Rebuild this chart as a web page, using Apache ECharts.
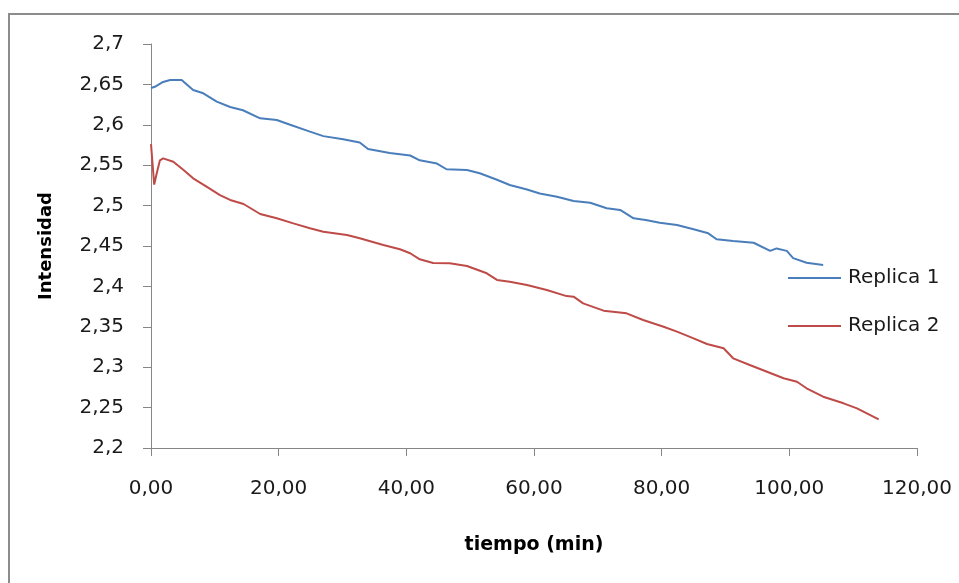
<!DOCTYPE html>
<html>
<head>
<meta charset="utf-8">
<script src="https://cdn.jsdelivr.net/npm/echarts@6/dist/echarts.min.js"></script>
<style>html,body{margin:0;padding:0;background:#fff}#c{width:959px;height:583px}</style>
</head>
<body>
<div id="c"></div>
<script>
const seriesNames = ['Replica 1', 'Replica 2'];
const xAxisTitle = 'tiempo (min)';
const yAxisTitle = 'Intensidad';
const xTicks = [0, 20, 40, 60, 80, 100, 120];
const yTicks = [2.2, 2.25, 2.3, 2.35, 2.4, 2.45, 2.5, 2.55, 2.6, 2.65, 2.7];

const rep1X = [0,0.6,1.9,3.0,4.8,6.6,8.2,10.3,12.4,14.4,17.1,19.7,21.8,24.9,27.0,30.1,32.7,34.0,37.4,40.6,42.1,44.8,46.3,49.5,51.5,54.2,56.2,58.9,60.9,63.6,66.2,68.8,71.4,73.5,75.6,77.5,79.7,82.4,85.0,87.3,88.6,91.2,94.4,97.0,98.0,99.6,100.6,102.7,105.3];
const rep1Y = [2.6455,2.647,2.653,2.6555,2.6555,2.643,2.639,2.6286,2.622,2.618,2.608,2.606,2.600,2.5915,2.586,2.582,2.578,2.570,2.565,2.562,2.556,2.552,2.545,2.544,2.540,2.532,2.5255,2.520,2.515,2.511,2.5057,2.5036,2.4967,2.4946,2.4843,2.4822,2.4789,2.476,2.4707,2.4657,2.4583,2.4562,2.454,2.444,2.447,2.444,2.435,2.4293,2.4265];

const rep2X = [0,0.5,0.9,1.4,1.9,3.5,5.1,6.6,8.7,10.8,12.4,14.5,17.1,19.7,22.3,24.9,27.0,30.7,32.7,36.4,39.0,40.6,42.1,44.2,46.8,49.5,52.6,54.2,56.2,58.9,62.0,65.1,66.2,67.7,70.9,74.5,77.1,80.3,82.4,85.0,87.1,89.7,91.2,93.8,96.5,99.1,101.2,102.7,105.3,108.5,110.6,114.0];
const rep2Y = [2.576,2.526,2.540,2.556,2.5585,2.5543,2.544,2.5338,2.5234,2.513,2.507,2.502,2.4896,2.4843,2.478,2.472,2.4677,2.4636,2.4595,2.4512,2.446,2.441,2.4335,2.429,2.4286,2.4253,2.4162,2.408,2.4058,2.4017,2.3955,2.388,2.3873,2.379,2.370,2.3667,2.3584,2.350,2.344,2.3357,2.3287,2.3234,2.311,2.3027,2.2944,2.2863,2.282,2.2739,2.2635,2.2553,2.249,2.2355];

const pairs = (xs, ys) => xs.map((x, i) => [x, ys[i]]);
const FONT = 'DejaVu Sans';
const axisColor = '#868686';

const chart = echarts.init(document.getElementById('c'), null, {renderer: 'canvas'});
chart.setOption({
  animation: false,
  backgroundColor: '#fff',
  graphic: [{
    type: 'rect',
    shape: {x: 9, y: 14, width: 1000, height: 1000},
    style: {fill: 'none', stroke: '#8c8c8c', lineWidth: 2},
    silent: true,
    z: -1
  }],
  grid: {left: 151, right: 42, top: 44, bottom: 135, containLabel: false},
  legend: {
    orient: 'vertical',
    left: 788,
    top: 266,
    padding: 0,
    itemWidth: 53,
    itemHeight: 2,
    itemGap: 24,
    icon: 'rect',
    textStyle: {fontFamily: FONT, fontSize: 20, color: '#1a1a1a', lineHeight: 24, padding: [0, 0, 0, 2]},
    data: seriesNames
  },
  xAxis: {
    type: 'value',
    min: xTicks[0],
    max: xTicks[xTicks.length - 1],
    interval: xTicks[1] - xTicks[0],
    name: xAxisTitle,
    nameLocation: 'middle',
    nameGap: 88,
    nameTextStyle: {fontFamily: FONT, fontSize: 19, fontWeight: 'bold', color: '#000'},
    axisLine: {show: true, lineStyle: {color: axisColor, width: 1}},
    axisTick: {show: true, inside: false, length: 8, lineStyle: {color: axisColor}},
    splitLine: {show: false},
    axisLabel: {
      margin: 31,
      fontFamily: FONT, fontSize: 20, color: '#1a1a1a',
      formatter: v => v.toFixed(2).replace('.', ',')
    }
  },
  yAxis: {
    type: 'value',
    min: yTicks[0],
    max: yTicks[yTicks.length - 1],
    interval: 0.05,
    name: yAxisTitle,
    nameLocation: 'middle',
    nameGap: 96,
    nameTextStyle: {fontFamily: FONT, fontSize: 18, fontWeight: 'bold', color: '#000'},
    axisLine: {show: true, lineStyle: {color: axisColor, width: 1}},
    axisTick: {show: true, inside: false, length: 8, lineStyle: {color: axisColor}},
    splitLine: {show: false},
    axisLabel: {
      margin: 27,
      fontFamily: FONT, fontSize: 20, color: '#1a1a1a',
      formatter: v => String(Math.round(v * 100) / 100).replace('.', ',')
    }
  },
  series: [
    {
      name: seriesNames[0], type: 'line', data: pairs(rep1X, rep1Y),
      showSymbol: false, symbol: 'none', smooth: false,
      lineStyle: {color: '#4a7ebb', width: 2}, itemStyle: {color: '#4a7ebb'}
    },
    {
      name: seriesNames[1], type: 'line', data: pairs(rep2X, rep2Y),
      showSymbol: false, symbol: 'none', smooth: false,
      lineStyle: {color: '#be4b48', width: 2}, itemStyle: {color: '#be4b48'}
    }
  ]
});
</script>
</body>
</html>
